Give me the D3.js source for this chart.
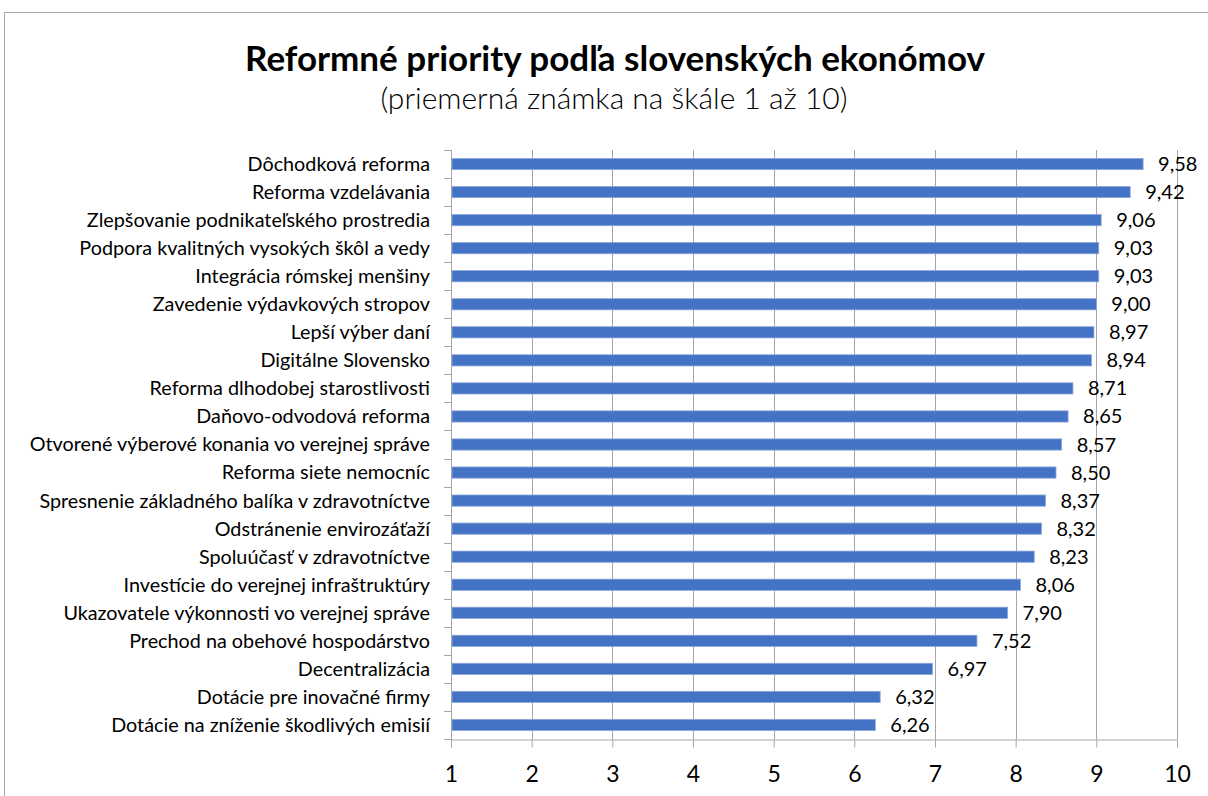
<!DOCTYPE html>
<html>
<head>
<meta charset="utf-8">
<script src="https://cdn.jsdelivr.net/npm/d3@7/dist/d3.min.js"></script>
<style>
  body { margin: 0; background: #fff; }
  svg { display: block; }
  text { font-family: Lato, "Open Sans", sans-serif; fill: #000; }
</style>
</head>
<body>
<svg id="chart" width="1208" height="796"></svg>
<script>
const categories = [
  "Dôchodková reforma",
  "Reforma vzdelávania",
  "Zlepšovanie podnikateľského prostredia",
  "Podpora kvalitných vysokých škôl a vedy",
  "Integrácia rómskej menšiny",
  "Zavedenie výdavkových stropov",
  "Lepší výber daní",
  "Digitálne Slovensko",
  "Reforma dlhodobej starostlivosti",
  "Daňovo-odvodová reforma",
  "Otvorené výberové konania vo verejnej správe",
  "Reforma siete nemocníc",
  "Spresnenie základného balíka v zdravotníctve",
  "Odstránenie envirozáťaží",
  "Spoluúčasť v zdravotníctve",
  "Investície do verejnej infraštruktúry",
  "Ukazovatele výkonnosti vo verejnej správe",
  "Prechod na obehové hospodárstvo",
  "Decentralizácia",
  "Dotácie pre inovačné firmy",
  "Dotácie na zníženie škodlivých emisií"
];
const values = [9.58, 9.42, 9.06, 9.03, 9.03, 9.00, 8.97, 8.94, 8.71, 8.65, 8.57, 8.50, 8.37, 8.32, 8.23, 8.06, 7.90, 7.52, 6.97, 6.32, 6.26];
const xTicks = [1, 2, 3, 4, 5, 6, 7, 8, 9, 10];
const titleText = "Reformné priority podľa slovenských ekonómov";
const subtitleText = "(priemerná známka na škále 1 až 10)";

const data = categories.map((c, i) => ({ cat: c, val: values[i] }));
const svg = d3.select("#chart");

// chart frame
svg.append("path")
  .attr("d", "M4.5,796 V12.5 H1208")
  .attr("fill", "none").attr("stroke", "#A6A6A6").attr("stroke-width", 1);

const plot = { left: 451, right: 1177, top: 150, bottom: 739 };
const x = d3.scaleLinear().domain([1, 10]).range([plot.left, plot.right]);
const y = d3.scaleBand().domain(categories).range([plot.top, plot.bottom])
  .paddingInner(0.6).paddingOuter(0.3);

// title
svg.append("text").attr("x", 615).attr("y", 71).attr("text-anchor", "middle")
  .style("font-size", "35px").style("font-weight", "bold").text(titleText);
svg.append("text").attr("x", 614).attr("y", 109).attr("text-anchor", "middle")
  .style("font-size", "30px").style("font-weight", "300").text(subtitleText);

// gridlines
svg.append("g").selectAll("line").data(xTicks.filter(t => t !== 1)).join("line")
  .attr("x1", d => Math.round(x(d)) + 0.5).attr("x2", d => Math.round(x(d)) + 0.5)
  .attr("y1", plot.top).attr("y2", plot.bottom)
  .attr("stroke", "#A6A6A6").attr("stroke-width", 1);

// x axis
const xAxis = d3.axisBottom(x).tickValues(xTicks).tickSize(8).tickPadding(18)
  .tickFormat(d3.format("d"));
const gx = svg.append("g").attr("transform", `translate(0,${plot.bottom + 0.5})`).call(xAxis);
gx.select(".domain").attr("stroke", "#A6A6A6");
gx.selectAll(".tick line").attr("stroke", "#A6A6A6");
gx.selectAll(".tick text").style("font-size", "23px").style("font-family", "Lato, sans-serif").attr("fill", "#000");

// y axis line and category ticks (at band boundaries)
svg.append("line").attr("x1", plot.left + 0.5).attr("x2", plot.left + 0.5)
  .attr("y1", plot.top).attr("y2", plot.bottom + 0.5)
  .attr("stroke", "#A6A6A6");
const step = y.step();
const boundaries = d3.range(categories.length + 1).map(i => plot.top + i * step);
svg.append("g").selectAll("line").data(boundaries).join("line")
  .attr("x1", plot.left - 7).attr("x2", plot.left)
  .attr("y1", d => Math.round(d) + 0.5).attr("y2", d => Math.round(d) + 0.5)
  .attr("stroke", "#A6A6A6");

// category labels
svg.append("g").selectAll("text").data(data).join("text")
  .attr("x", 430).attr("y", d => y(d.cat) + y.bandwidth() / 2)
  .attr("dy", "0.35em").attr("text-anchor", "end")
  .style("font-size", "19.8px").text(d => d.cat);

// bars
svg.append("g").selectAll("rect").data(data).join("rect")
  .attr("x", x(1) + 1).attr("y", d => y(d.cat))
  .attr("width", d => x(d.val) - x(1) - 1).attr("height", y.bandwidth())
  .attr("fill", "#4472C4").attr("stroke", "#8EA9DB").attr("stroke-width", 0.8);

// value labels
const fmt = v => v.toFixed(2).replace(".", ",");
svg.append("g").selectAll("text").data(data).join("text")
  .attr("x", d => x(d.val) + 15).attr("y", d => y(d.cat) + y.bandwidth() / 2)
  .attr("dy", "0.35em").style("font-size", "20px").text(d => fmt(d.val));
</script>
</body>
</html>
